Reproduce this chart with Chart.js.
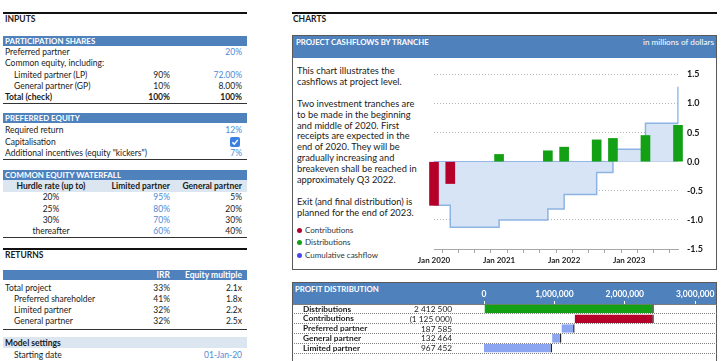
<!DOCTYPE html>
<html>
<head>
<meta charset="utf-8">
<script src="https://cdn.jsdelivr.net/npm/chart.js@4.4.1/dist/chart.umd.min.js"></script>
<style>
    body { margin: 0; width: 722px; height: 361px; overflow: hidden; background: #fff; position: relative;
           font-family: Lato, 'Open Sans', sans-serif; font-size: 8.5px; color: #1a1a1a; }
    .a { position: absolute; white-space: nowrap; line-height: 12px; height: 12px; }
    .b { font-weight: bold; }
    .l { left: 5px; }
    .li { left: 14px; }
    .c1 { right: 552px; text-align: right; }
    .c2 { right: 480px; text-align: right; }
    .cc { left: 0; width: 102px; text-align: center; }
    .in { color: #4f8ad6; }
    .rule1 { position: absolute; left: 3px; width: 244px; height: 1px; background: #333; }
    .rule2 { position: absolute; height: 2px; background: #111; }
    .hdr { position: absolute; left: 3px; width: 242px; height: 10px; line-height: 10px; padding-left: 2px;
           background: #4f81bd; color: #fff; font-weight: bold; font-size: 7.9px; white-space: nowrap; }
    .sub { position: absolute; left: 3px; width: 244px; background: #dce6f1; }
    .panel { position: absolute; left: 292px; width: 425px; border: 1px solid #595959; box-sizing: border-box; }
    .phead { position: absolute; left: 0; right: 0; top: 0; height: 22px; background: #4f81bd; }
    .ptitle { position: absolute; top: 0; color: #fff; line-height: 12px; white-space: nowrap; font-size: 8.2px; }
    .ptitle.b { font-size: 7.8px; }
    .note { position: absolute; left: 297px; top: 66px; line-height: 10.9px; font-size: 9.3px; color: #1a1a1a; }
    .leg { position: absolute; left: 297px; font-size: 8px; line-height: 10px; color: #333; white-space: nowrap; }
    .leg i { display: inline-block; width: 5px; height: 5px; border-radius: 50%; margin-right: 3px; vertical-align: 0; }
    .chk { position: absolute; left: 230px; top: 137px; width: 10px; height: 10px; border-radius: 2px; background: #3b7fe0; }
    canvas { position: absolute; }
</style>
</head>
<body>

<!-- INPUTS -->
<div class="rule2" style="top:12px;left:3px;width:244px"></div>
<div class="a b l" style="top:13px">INPUTS</div>

<div class="hdr" style="top:36px">PARTICIPATION SHARES</div>
<div class="a l" style="top:46px">Preferred partner</div>
<div class="a c2 in" style="top:46px">20%</div>
<div class="a l" style="top:57px">Common equity, including:</div>
<div class="a li" style="top:68.5px">Limited partner (LP)</div>
<div class="a c1" style="top:68.5px">90%</div>
<div class="a c2 in" style="top:68.5px">72.00%</div>
<div class="a li" style="top:80px">General partner (GP)</div>
<div class="a c1" style="top:80px">10%</div>
<div class="a c2" style="top:80px">8.00%</div>
<div class="a b l" style="top:91px">Total (check)</div>
<div class="a b c1" style="top:91px">100%</div>
<div class="a b c2" style="top:91px">100%</div>
<div class="rule1" style="top:103px"></div>

<div class="hdr" style="top:112.5px">PREFERRED EQUITY</div>
<div class="a l" style="top:124px">Required return</div>
<div class="a c2 in" style="top:124px">12%</div>
<div class="a l" style="top:136px">Capitalisation</div>
<div class="chk"><svg width="10" height="10" viewBox="0 0 10 10"><path d="M2.3 5.2 L4.2 7.1 L7.8 2.9" stroke="#fff" stroke-width="1.4" fill="none"/></svg></div>
<div class="a l" style="top:147px">Additional incentives (equity "kickers")</div>
<div class="a c2 in" style="top:147px">7%</div>
<div class="rule1" style="top:159px"></div>

<div class="hdr" style="top:170px">COMMON EQUITY WATERFALL</div>
<div class="sub" style="top:180px;height:12px"></div>
<div class="a b cc" style="top:180px">Hurdle rate (up to)</div>
<div class="a b c1" style="top:180px">Limited partner</div>
<div class="a b c2" style="top:180px">General partner</div>
<div class="a cc" style="top:191px">20%</div>
<div class="a c1 in" style="top:191px">95%</div>
<div class="a c2" style="top:191px">5%</div>
<div class="a cc" style="top:202.5px">25%</div>
<div class="a c1 in" style="top:202.5px">80%</div>
<div class="a c2" style="top:202.5px">20%</div>
<div class="a cc" style="top:213.7px">30%</div>
<div class="a c1 in" style="top:213.7px">70%</div>
<div class="a c2" style="top:213.7px">30%</div>
<div class="a cc" style="top:224.7px">thereafter</div>
<div class="a c1 in" style="top:224.7px">60%</div>
<div class="a c2" style="top:224.7px">40%</div>
<div class="rule1" style="top:236.5px"></div>

<!-- RETURNS -->
<div class="rule2" style="top:247.5px;left:3px;width:244px"></div>
<div class="a b l" style="top:248.5px">RETURNS</div>
<div class="hdr" style="top:270px"></div>
<div class="a b c1" style="top:269px;color:#fff">IRR</div>
<div class="a b c2" style="top:269px;color:#fff">Equity multiple</div>
<div class="a l" style="top:281.7px">Total project</div>
<div class="a c1" style="top:281.7px">33%</div>
<div class="a c2" style="top:281.7px">2.1x</div>
<div class="a li" style="top:292.7px">Preferred shareholder</div>
<div class="a c1" style="top:292.7px">41%</div>
<div class="a c2" style="top:292.7px">1.8x</div>
<div class="a li" style="top:304px">Limited partner</div>
<div class="a c1" style="top:304px">32%</div>
<div class="a c2" style="top:304px">2.2x</div>
<div class="a li" style="top:315px">General partner</div>
<div class="a c1" style="top:315px">32%</div>
<div class="a c2" style="top:315px">2.5x</div>
<div class="rule1" style="top:328.5px"></div>
<div class="sub" style="top:337px;height:11px"></div>
<div class="a b l" style="top:336.5px">Model settings</div>
<div class="a li" style="top:349px">Starting date</div>
<div class="a c2 in" style="top:349px">01-Jan-20</div>

<!-- CHARTS -->
<div class="rule2" style="top:12px;left:292px;width:425px"></div>
<div class="a b" style="top:13px;left:293px">CHARTS</div>

<div class="panel" style="top:35px;height:235px">
    <div class="phead"></div>
    <div class="ptitle b" style="left:3px;top:0px">PROJECT CASHFLOWS BY TRANCHE</div>
    <div class="ptitle" style="right:2px;top:0px">in millions of dollars</div>
</div>
<div class="note">
    This chart illustrates the<br>cashflows at project level.<br><br>
    Two investment tranches are<br>to be made in the beginning<br>and middle of 2020. First<br>receipts are expected in the<br>end of 2020. They will be<br>gradually increasing and<br>breakeven shall be reached in<br>approximately Q3 2022.<br><br>
    Exit (and final distribution) is<br>planned for the end of 2023.
</div>
<div class="leg" style="top:225px"><i style="background:#b5002a"></i>Contributions</div>
<div class="leg" style="top:237px"><i style="background:#14a014"></i>Distributions</div>
<div class="leg" style="top:249.5px"><i style="background:#4646ee"></i>Cumulative cashflow</div>
<canvas id="cashflowChart" style="left:400px;top:60px;width:317px;height:208px"></canvas>

<div class="panel" style="top:282px;height:80px">
    <div class="phead"></div>
    <div class="ptitle b" style="left:2px;top:0px">PROFIT DISTRIBUTION</div>
</div>
<canvas id="profitChart" style="left:292px;top:282px;width:425px;height:79px"></canvas>

<script>
// ========================================
// Chart data
// ========================================

// Project cashflows by quarter, in millions of dollars
const quarters = [
    'Jan 2020', 'Apr 2020', 'Jul 2020', 'Oct 2020',
    'Jan 2021', 'Apr 2021', 'Jul 2021', 'Oct 2021',
    'Jan 2022', 'Apr 2022', 'Jul 2022', 'Oct 2022',
    'Jan 2023', 'Apr 2023', 'Jul 2023', 'Oct 2023'
];
const contributions = [-0.75, -0.375, null, null, null, null, null, null, null, null, null, null, null, null, null, null];
const distributions = [null, null, null, null, 0.125, null, null, 0.1875, 0.25, null, 0.375, 0.4, null, 0.45, null, 0.625];
const cumulative = [-0.75, -1.125, -1.125, -1.125, -1.0, -1.0, -1.0, -0.8125, -0.5625, -0.5625, -0.1875, 0.2125, 0.2125, 0.6625, 0.6625, 1.2875];
const cashflowTicks = [-1.5, -1.0, -0.5, 0.0, 0.5, 1.0, 1.5];

// Profit distribution waterfall, in dollars
const profitLabels = ['Distributions', 'Contributions', 'Preferred partner', 'General partner', 'Limited partner'];
const profitValues = [2412500, -1125000, 187585, 132464, 967452];
const profitTicks = [0, 1000000, 2000000, 3000000];

const COLORS = {
    red: '#b5002a',
    green: '#14a014',
    area: '#d6e4f5',
    areaLine: '#8db3e2',
    partner: '#8ca6f2'
};

Chart.defaults.font.family = "Lato, 'Open Sans', sans-serif";
Chart.defaults.color = '#1a1a1a';

document.addEventListener('DOMContentLoaded', () => {
    initCashflowChart();
    initProfitChart();
});

function initCashflowChart() {
    const ctx = document.getElementById('cashflowChart');

    new Chart(ctx, {
        type: 'bar',
        data: {
            labels: quarters,
            datasets: [
                {
                    label: 'Contributions',
                    data: contributions,
                    backgroundColor: COLORS.red,
                    barThickness: 9,
                    clip: false,
                    order: 0
                },
                {
                    label: 'Distributions',
                    data: distributions,
                    backgroundColor: COLORS.green,
                    barThickness: 9,
                    clip: false,
                    order: 0
                },
                {
                    type: 'line',
                    label: 'Cumulative cashflow',
                    data: cumulative,
                    stepped: true,
                    fill: 'origin',
                    backgroundColor: COLORS.area,
                    borderColor: COLORS.areaLine,
                    borderWidth: 1.5,
                    pointRadius: 0,
                    order: 1
                }
            ]
        },
        options: {
            responsive: false,
            animation: false,
            layout: { padding: { left: 34, top: 12, right: 0, bottom: 0 } },
            plugins: {
                legend: { display: false },
                tooltip: { enabled: false }
            },
            scales: {
                x: {
                    stacked: true,
                    offset: false,
                    afterFit: (axis) => { axis.height = 19; },
                    border: { display: true, color: '#a6a6a6', width: 1 },
                    grid: { drawOnChartArea: false, tickLength: 4, tickColor: '#a6a6a6' },
                    ticks: {
                        autoSkip: false,
                        maxRotation: 0,
                        padding: 3,
                        color: '#1a1a1a',
                        font: { size: 8, weight: 'bold' },
                        callback: (value, index) => quarters[index].startsWith('Jan') ? quarters[index] : ''
                    }
                },
                y: {
                    position: 'right',
                    min: cashflowTicks[0],
                    max: cashflowTicks[cashflowTicks.length - 1],
                    afterFit: (axis) => { axis.width = 39; },
                    afterBuildTicks: (axis) => { axis.ticks = cashflowTicks.map(v => ({ value: v })); },
                    border: {
                        display: false,
                        dash: (c) => (c.tick && c.tick.value === 0) ? [] : [1, 2]
                    },
                    grid: {
                        drawTicks: false,
                        color: (c) => (c.tick && c.tick.value === 0) ? '#7fa7dc' : '#b3b3b3'
                    },
                    ticks: {
                        padding: 9,
                        color: '#1a1a1a',
                        font: { size: 9, weight: 'bold' },
                        callback: (value) => Number(value).toFixed(1)
                    }
                }
            }
        }
    });
}

// Numbers like 2 412 500 and (1 125 000)
function formatSpaced(value) {
    const text = Math.abs(value).toLocaleString('en-US').replace(/,/g, ' ');
    return value < 0 ? `(${text})` : text;
}

function initProfitChart() {
    const ctx = document.getElementById('profitChart');

    // Waterfall: first bar from zero, the rest step down from the running total
    let running = 0;
    const ranges = profitValues.map((v, i) => {
        if (i === 0) {
            running = v;
            return [0, v];
        }
        const next = running - Math.abs(v);
        const range = [next, running];
        running = next;
        return range;
    });

    // Amount column next to the category names
    const valueLabels = {
        id: 'valueLabels',
        afterDraw(chart) {
            const { ctx, scales: { y } } = chart;
            ctx.save();
            ctx.font = "8.3px Lato, 'Open Sans', sans-serif";
            ctx.fillStyle = '#1a1a1a';
            ctx.textAlign = 'right';
            ctx.textBaseline = 'middle';
            profitValues.forEach((v, i) => {
                ctx.fillText(formatSpaced(v), 160, y.getPixelForValue(i) + 0.5);
            });
            ctx.restore();
        }
    };

    new Chart(ctx, {
        type: 'bar',
        data: {
            labels: profitLabels,
            datasets: [{
                data: ranges,
                backgroundColor: [COLORS.green, COLORS.red, COLORS.partner, COLORS.partner, COLORS.partner],
                borderColor: '#262626',
                borderWidth: { top: 0, bottom: 0, left: 0, right: 1.5 },
                borderSkipped: false,
                barPercentage: 0.88,
                categoryPercentage: 1
            }]
        },
        plugins: [valueLabels],
        options: {
            indexAxis: 'y',
            responsive: false,
            animation: false,
            layout: { padding: { left: 11, top: 0, right: 0, bottom: 0 } },
            plugins: {
                legend: { display: false },
                tooltip: { enabled: false }
            },
            scales: {
                x: {
                    position: 'top',
                    min: 0,
                    max: 3310000,
                    afterFit: (axis) => { axis.height = 22; },
                    afterBuildTicks: (axis) => { axis.ticks = profitTicks.map(v => ({ value: v })); },
                    border: { display: false },
                    grid: { drawOnChartArea: false, tickLength: 3, tickColor: '#ffffff' },
                    ticks: {
                        padding: 2,
                        color: '#ffffff',
                        font: { size: 8.5, weight: 'bold' },
                        callback: (value) => Number(value).toLocaleString('en-US')
                    }
                },
                y: {
                    afterFit: (axis) => { axis.width = 181; },
                    border: { display: false, dash: [1, 1] },
                    grid: {
                        color: '#808080',
                        tickColor: '#808080',
                        tickLength: 190,
                        tickBorderDash: [1, 1]
                    },
                    ticks: {
                        autoSkip: false,
                        crossAlign: 'far',
                        color: '#1a1a1a',
                        font: { size: 8.3, weight: 'bold' }
                    }
                }
            }
        }
    });
}
</script>
</body>
</html>
